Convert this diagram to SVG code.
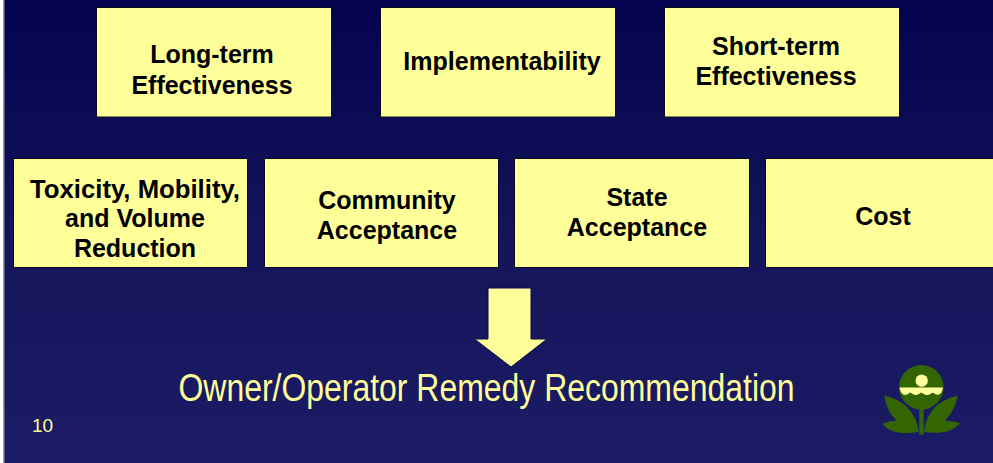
<svg xmlns="http://www.w3.org/2000/svg" width="993" height="463" viewBox="0 0 993 463">
<defs>
<linearGradient id="bg" x1="0" y1="0" x2="0" y2="1">
<stop offset="0" stop-color="#03034f"/>
<stop offset="0.5" stop-color="#14145a"/>
<stop offset="1" stop-color="#1c1c66"/>
</linearGradient>
</defs>
<style>
.box{fill:#ffff99;stroke:#0a0a20;stroke-width:1}
.t{font-family:"Liberation Sans",Arial,sans-serif;font-weight:bold;font-size:25px;fill:#000;text-anchor:middle}
.leaf{fill:#336600}
.cream{fill:#ffffa0}
</style>
<rect width="993" height="463" fill="url(#bg)"/>
<rect x="0" y="0" width="3.500" height="463" fill="#fff"/>
<rect x="3" y="0" width="1.500" height="463" fill="#999"/>
<g id="n1"><rect class="box" x="96.500" y="7.500" width="235" height="109.500"/><text class="t" x="212" y="63">Long-term</text><text class="t" x="212" y="94">Effectiveness</text></g>
<g id="n2"><rect class="box" x="380.500" y="7.500" width="235" height="109.500"/><text class="t" x="502" y="70">Implementability</text></g>
<g id="n3"><rect class="box" x="664.500" y="7.500" width="235" height="109.500"/><text class="t" x="776" y="55">Short-term</text><text class="t" x="776" y="85">Effectiveness</text></g>
<g id="n4"><rect class="box" x="13.500" y="158.500" width="234" height="109"/><text class="t" x="135" y="198" textLength="210" lengthAdjust="spacingAndGlyphs">Toxicity, Mobility,</text><text class="t" x="135" y="227">and Volume</text><text class="t" x="135" y="257">Reduction</text></g>
<g id="n5"><rect class="box" x="264.500" y="158.500" width="234" height="109"/><text class="t" x="387" y="209">Community</text><text class="t" x="387" y="239">Acceptance</text></g>
<g id="n6"><rect class="box" x="514.500" y="158.500" width="235" height="109"/><text class="t" x="637" y="206">State</text><text class="t" x="637" y="236">Acceptance</text></g>
<g id="n7"><rect class="box" x="765.500" y="158.500" width="235" height="109"/><text class="t" x="883" y="225">Cost</text></g>
<g id="connectors"><path d="M488 288H531V339H547L511 367L474.500 339H488Z" fill="#ffff99" stroke="#0a0a50" stroke-width="1"/></g>
<g id="title"><text x="486.500" y="401" font-family="'Liberation Sans',Arial,sans-serif" font-size="38" fill="#ffff99" text-anchor="middle" textLength="616" lengthAdjust="spacingAndGlyphs">Owner/Operator Remedy Recommendation</text></g>
<g id="pagenum"><text x="32" y="432" font-family="'Liberation Sans',Arial,sans-serif" font-size="19" fill="#ffff99">10</text></g>
<g id="logo">
<circle cx="921.300" cy="387.300" r="22.300" class="leaf"/>
<path class="cream" d="M899.500 387.500H943C942.500 391 941 394 938.500 394.800C936 395 934.500 393.500 932.500 392.500C930.500 394.500 928 395.500 925.500 394.800C923.500 394 922.500 393 921 392.500C919 394 917 395.500 914.500 394.800C912.500 394 911.500 393 910 392.500C908 394 906 395.500 904 394.800C901.500 394 900 391 899.500 387.500Z"/>
<circle class="cream" cx="921.700" cy="380.700" r="6.200"/>
<rect class="leaf" x="919.300" y="408" width="4.400" height="26.700"/>
<path class="leaf" d="M884.300 395.700C900 399 914 408 918.500 429V432C905 434 890 434 882.700 424C887 421.500 892 421 896.700 420.700C889 413 886 405 884.300 395.700Z"/>
<path class="leaf" d="M957.700 395.700C942 399 928 408 924.500 429V432C938 434 952 433 960 423C955 421.500 950 421 945 420.700C952 413 956 405 957.700 395.700Z"/>
</g>
</svg>
